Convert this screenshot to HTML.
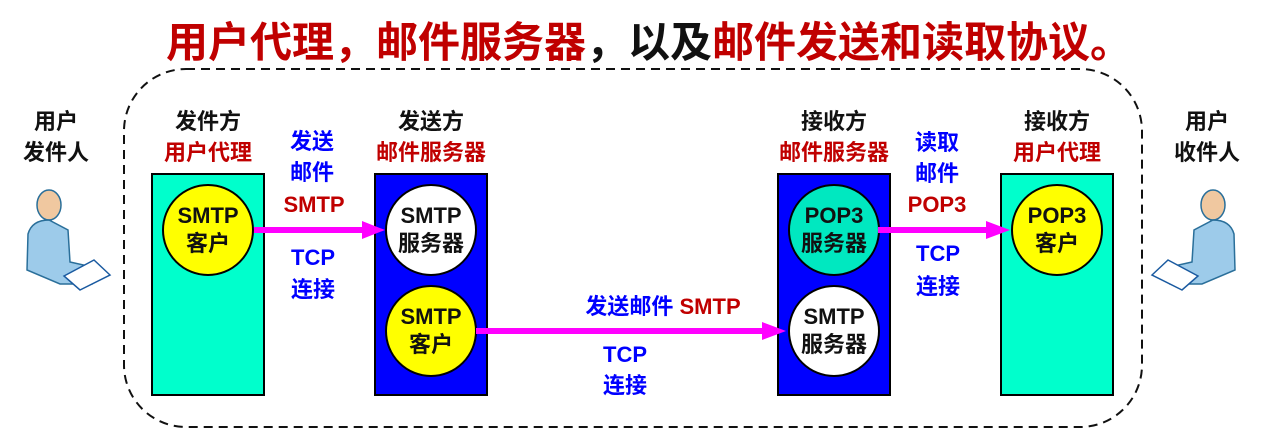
<!DOCTYPE html><html><head><meta charset="utf-8"><style>
body{margin:0;width:1262px;height:430px;background:#fff;overflow:hidden;position:relative;font-family:"Liberation Sans","Noto Sans CJK SC",sans-serif;font-weight:bold}
.t{position:absolute;transform:translate(-50%,-50%);white-space:nowrap;font-size:22px;line-height:1}
.r{color:#c00000}.b{color:#0000ff}.k{color:#111}
</style></head><body>
<svg width="1262" height="430" style="position:absolute;left:0;top:0">
<rect x="124" y="69" width="1018" height="358" rx="62" fill="none" stroke="#111" stroke-width="2" stroke-dasharray="9,6"/>
<rect x="152" y="174" width="112" height="221" fill="#00ffcc" stroke="#000" stroke-width="2"/>
<rect x="375" y="174" width="112" height="221" fill="#0000ff" stroke="#000" stroke-width="2"/>
<rect x="778" y="174" width="112" height="221" fill="#0000ff" stroke="#000" stroke-width="2"/>
<rect x="1001" y="174" width="112" height="221" fill="#00ffcc" stroke="#000" stroke-width="2"/>
<circle cx="208" cy="230" r="45" fill="#ffff00" stroke="#000" stroke-width="2"/>
<circle cx="431" cy="230" r="45" fill="#fff" stroke="#000" stroke-width="2"/>
<circle cx="431" cy="331" r="45" fill="#ffff00" stroke="#000" stroke-width="2"/>
<circle cx="834" cy="230" r="45" fill="#00e8c0" stroke="#000" stroke-width="2"/>
<circle cx="834" cy="331" r="45" fill="#fff" stroke="#000" stroke-width="2"/>
<circle cx="1057" cy="230" r="45" fill="#ffff00" stroke="#000" stroke-width="2"/>
<g fill="#ff00ff">
<rect x="254" y="227" width="110" height="6"/><polygon points="362,221 385,230 362,239"/>
<rect x="476" y="328" width="288" height="6"/><polygon points="762,322 786,331 762,340"/>
<rect x="878" y="227" width="110" height="6"/><polygon points="986,221 1010,230 986,239"/>
</g>
<g id="p">
<ellipse cx="49" cy="205" rx="12" ry="15" fill="#f0c8a0" stroke="#2a6f9a" stroke-width="1.5"/>
<path d="M28 234 Q32 220 49 220 L68 230 L70 262 L97 268 L92 284 L60 284 L27 270 Z" fill="#9dcbea" stroke="#2a6f9a" stroke-width="1.5"/>
<polygon points="64,276 94,260 110,275 80,290" fill="#fff" stroke="#1a5aa0" stroke-width="1.5"/>
</g>
<use href="#p" transform="translate(1262,0) scale(-1,1)"/>
</svg>
<div class="t" style="left:649px;top:43px;font-size:42px"><span class="r">用户代理，邮件服务器</span><span class="k">，以及</span><span class="r">邮件发送和读取协议。</span></div>
<div class="t k" style="left:56px;top:122px">用户</div><div class="t k" style="left:56px;top:153px">发件人</div>
<div class="t k" style="left:1207px;top:122px">用户</div><div class="t k" style="left:1207px;top:153px">收件人</div>
<div class="t k" style="left:208px;top:122px">发件方</div><div class="t r" style="left:208px;top:153px">用户代理</div>
<div class="t k" style="left:431px;top:122px">发送方</div><div class="t r" style="left:431px;top:153px">邮件服务器</div>
<div class="t k" style="left:834px;top:122px">接收方</div><div class="t r" style="left:834px;top:153px">邮件服务器</div>
<div class="t k" style="left:1057px;top:122px">接收方</div><div class="t r" style="left:1057px;top:153px">用户代理</div>
<div class="t b" style="left:312px;top:142px">发送</div><div class="t b" style="left:312px;top:173px">邮件</div><div class="t r" style="left:314px;top:205px">SMTP</div>
<div class="t b" style="left:313px;top:258px">TCP</div><div class="t b" style="left:313px;top:290px">连接</div>
<div class="t b" style="left:937px;top:143px">读取</div><div class="t b" style="left:937px;top:174px">邮件</div><div class="t r" style="left:937px;top:205px">POP3</div>
<div class="t b" style="left:938px;top:254px">TCP</div><div class="t b" style="left:938px;top:287px">连接</div>
<div class="t" style="left:663px;top:307px"><span class="b">发送邮件 </span><span class="r">SMTP</span></div>
<div class="t b" style="left:625px;top:355px">TCP</div><div class="t b" style="left:625px;top:386px">连接</div>
<div class="t k" style="left:208px;top:216px">SMTP</div><div class="t k" style="left:208px;top:244px">客户</div>
<div class="t k" style="left:431px;top:216px">SMTP</div><div class="t k" style="left:431px;top:244px">服务器</div>
<div class="t k" style="left:431px;top:317px">SMTP</div><div class="t k" style="left:431px;top:345px">客户</div>
<div class="t k" style="left:834px;top:216px">POP3</div><div class="t k" style="left:834px;top:244px">服务器</div>
<div class="t k" style="left:834px;top:317px">SMTP</div><div class="t k" style="left:834px;top:345px">服务器</div>
<div class="t k" style="left:1057px;top:216px">POP3</div><div class="t k" style="left:1057px;top:244px">客户</div>
</body></html>
